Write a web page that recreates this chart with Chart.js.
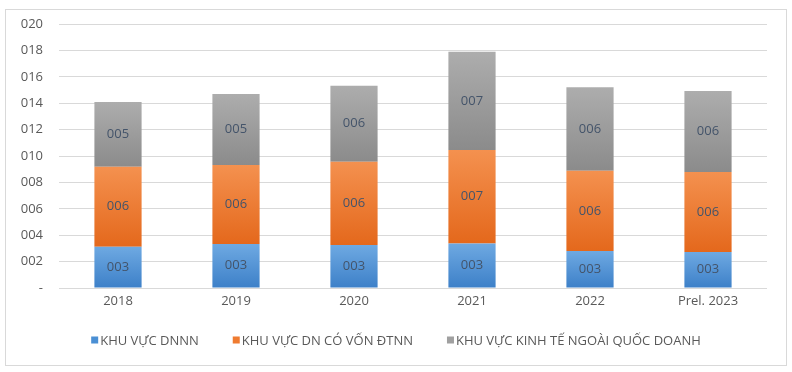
<!DOCTYPE html>
<html>
<head>
<meta charset="utf-8">
<script src="https://cdn.jsdelivr.net/npm/chart.js@4.4.1/dist/chart.umd.min.js"></script>
<style>
  html, body { margin: 0; padding: 0; background: #fff; }
</style>
</head>
<body>
<canvas id="myChart" width="792" height="372"></canvas>
<script>
// values
const labels = ['2018', '2019', '2020', '2021', '2022', 'Prel. 2023'];
const dnnn = [3.13, 3.33, 3.26, 3.38, 2.80, 2.73];
const fdi = [6.06, 5.99, 6.31, 7.07, 6.09, 6.06];
const ngoaiQD = [4.90, 5.38, 5.76, 7.45, 6.31, 6.13];
const seriesNames = ['KHU VỰC DNNN', 'KHU VỰC DN CÓ VỐN ĐTNN', 'KHU VỰC KINH TẾ NGOÀI QUỐC DOANH'];

const FONT = '"Open Sans", "Noto Sans", sans-serif';
const seriesData = [dnnn, fdi, ngoaiQD];

// top / bottom colours of each segment's gradient, plus a flat one for the legend
const shades = [
    {top: '#6ea9e2', bottom: '#3d80c8', flat: '#4a8fd4'},
    {top: '#f4914f', bottom: '#e4681c', flat: '#ef7b30'},
    {top: '#adadad', bottom: '#8b8b8b', flat: '#a0a0a0'}
];

function pad3(v) {
    const n = Math.round(v);
    return String(n).padStart(3, '0');
}

function segmentFill(ds) {
    return function (context) {
        const chart = context.chart;
        const y = chart.scales && chart.scales.y;
        if (context.type !== 'data' || !y || !chart.chartArea) {
            return shades[ds].flat;
        }
        let base = 0;
        for (let k = 0; k < ds; k++) base += seriesData[k][context.dataIndex];
        const top = base + seriesData[ds][context.dataIndex];
        const g = chart.ctx.createLinearGradient(0, y.getPixelForValue(top), 0, y.getPixelForValue(base));
        g.addColorStop(0, shades[ds].top);
        g.addColorStop(1, shades[ds].bottom);
        return g;
    };
}

const frame = {
    id: 'frame',
    beforeDraw(chart) {
        const c = chart.ctx;
        c.save();
        c.fillStyle = '#ffffff';
        c.fillRect(0, 0, chart.width, chart.height);
        c.strokeStyle = '#d9d9d9';
        c.lineWidth = 1;
        c.strokeRect(5.5, 9.5, 781, 356);
        c.restore();
    }
};

const segmentLabels = {
    id: 'segmentLabels',
    afterDatasetsDraw(chart) {
        const c = chart.ctx;
        c.save();
        c.font = '13px ' + FONT;
        c.fillStyle = '#44546a';
        c.textAlign = 'center';
        c.textBaseline = 'middle';
        chart.data.datasets.forEach((ds, i) => {
            chart.getDatasetMeta(i).data.forEach((bar, j) => {
                const p = bar.getProps(['x', 'y', 'base'], true);
                c.fillText(pad3(ds.data[j]), p.x, (p.y + p.base) / 2);
            });
        });
        c.restore();
    }
};

const bottomLegend = {
    id: 'bottomLegend',
    afterDraw(chart) {
        const c = chart.ctx;
        c.save();
        c.font = '13px ' + FONT;
        c.textBaseline = 'middle';
        const box = 7, gapText = 2, gapItem = 34;
        const widths = seriesNames.map(t => box + gapText + c.measureText(t).width);
        const total = widths.reduce((a, b) => a + b, 0) + gapItem * (widths.length - 1);
        let x = (chart.width - total) / 2;
        const yMid = 340;
        seriesNames.forEach((t, i) => {
            c.fillStyle = shades[i].flat;
            c.fillRect(x, yMid - box / 2, box, box);
            c.fillStyle = '#595959';
            c.fillText(t, x + box + gapText, yMid + 1);
            x += widths[i] + gapItem;
        });
        c.restore();
    }
};

const ctx = document.getElementById('myChart');

const config = {
    type: 'bar',
    data: {
        labels: labels,
        datasets: seriesData.map((d, i) => ({
            label: seriesNames[i],
            data: d,
            backgroundColor: segmentFill(i),
            borderWidth: 0,
            barPercentage: 0.4,
            categoryPercentage: 1.0
        }))
    },
    options: {
        responsive: false,
        animation: false,
        layout: {
            padding: {left: 0, right: 25, top: 24, bottom: 60}
        },
        plugins: {
            legend: {display: false},
            tooltip: {enabled: false}
        },
        scales: {
            x: {
                stacked: true,
                grid: {display: false, drawTicks: false},
                border: {display: false},
                ticks: {
                    color: '#595959',
                    font: {family: FONT, size: 13},
                    padding: 5
                },
                afterFit(scale) { scale.height = 24; }
            },
            y: {
                stacked: true,
                min: 0,
                max: 20,
                grid: {color: '#d9d9d9', drawTicks: false},
                border: {display: false},
                ticks: {
                    stepSize: 2,
                    color: '#595959',
                    font: {family: FONT, size: 13},
                    padding: 16,
                    callback: v => (v === 0 ? '-' : pad3(v))
                },
                afterFit(scale) { scale.width = 59; }
            }
        }
    },
    plugins: [frame, segmentLabels, bottomLegend]
};

const myChart = new Chart(ctx, config);
</script>
</body>
</html>
